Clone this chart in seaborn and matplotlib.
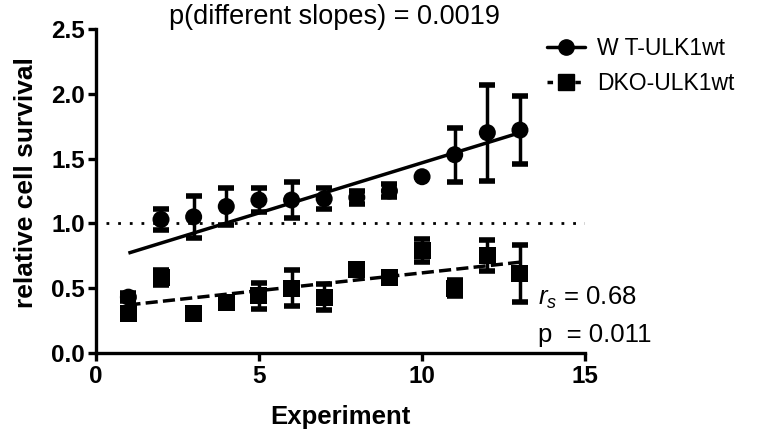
import numpy as np
import pandas as pd
import matplotlib
matplotlib.use("Agg")
import matplotlib.pyplot as plt
from matplotlib.lines import Line2D
import seaborn as sns

# ---- data ----
experiment = [1, 2, 3, 4, 5, 6, 7, 8, 9, 10, 11, 12, 13]
wt_mean = [0.43, 1.03, 1.05, 1.13, 1.18, 1.18, 1.19, 1.20, 1.25, 1.36, 1.53, 1.70, 1.72]
wt_err = [0.03, 0.08, 0.16, 0.14, 0.09, 0.14, 0.08, 0.05, 0.05, 0.0, 0.21, 0.37, 0.26]
dko_mean = [0.30, 0.58, 0.30, 0.39, 0.44, 0.50, 0.43, 0.64, 0.58, 0.79, 0.50, 0.75, 0.61]
dko_err = [0.04, 0.06, 0.0, 0.04, 0.10, 0.14, 0.10, 0.02, 0.04, 0.09, 0.06, 0.12, 0.22]
fit_x = [1, 13]
wt_fit = [0.77, 1.70]
dko_fit = [0.37, 0.70]
series_names = ["W T-ULK1wt", "DKO-ULK1wt"]
title_text = "p(different slopes) = 0.0019"
rs_text = "$r_s$ = 0.68"
p_text = "p  = 0.011"
xticks = [0, 5, 10, 15]
yticks = [0.0, 0.5, 1.0, 1.5, 2.0, 2.5]

df = pd.DataFrame({
    "Experiment": experiment * 2,
    "value": wt_mean + dko_mean,
    "err": wt_err + dko_err,
    "group": [series_names[0]] * len(experiment) + [series_names[1]] * len(experiment),
})
fit_df = pd.DataFrame({
    "Experiment": fit_x * 2,
    "value": wt_fit + dko_fit,
    "group": [series_names[0]] * 2 + [series_names[1]] * 2,
})

sns.set_style("ticks", rc={"text.color": "black", "axes.labelcolor": "black",
                           "xtick.color": "black", "ytick.color": "black",
                           "axes.edgecolor": "black"})
arial = ["Liberation Sans", "DejaVu Sans"]
plt.rcParams["font.family"] = arial
plt.rcParams["mathtext.fontset"] = "custom"
plt.rcParams["mathtext.it"] = "Liberation Sans:italic"
plt.rcParams["mathtext.rm"] = "Liberation Sans"

fig = plt.figure(figsize=(7.66, 4.34), dpi=100)
ax = fig.add_axes([0.125, 0.187, 0.639, 0.746])

lw = 2.5
# error bars
for name, grp in df.groupby("group", sort=False):
    ax.errorbar(grp["Experiment"], grp["value"], yerr=grp["err"], fmt="none",
                ecolor="black", elinewidth=lw, capsize=6, capthick=lw * 1.6, zorder=3)

# fit lines
sns.lineplot(data=fit_df, x="Experiment", y="value", hue="group", style="group",
             palette=["black", "black"], dashes=[(1, 0), (3.5, 1.5)],
             linewidth=lw, legend=False, ax=ax, zorder=2)

# markers
sns.scatterplot(data=df, x="Experiment", y="value", hue="group", style="group",
                markers=["o", "s"], palette=["black", "black"], s=150,
                edgecolor="black", linewidth=0, legend=False, ax=ax, zorder=4)

ax.axhline(1.0, xmin=0.02, color="black", linestyle=(0, (1, 3.2)), linewidth=2.0, zorder=1)

ax.set_xlim(0, 15)
ax.set_ylim(0, 2.5)
ax.set_xticks(xticks)
ax.set_yticks(yticks)
ax.set_xticklabels([str(t) for t in xticks])
ax.set_yticklabels([f"{t:.1f}" for t in yticks])
for sp in ["top", "right"]:
    ax.spines[sp].set_visible(False)
for sp in ["left", "bottom"]:
    ax.spines[sp].set_linewidth(2.4)
ax.tick_params(axis="both", direction="out", length=6, width=2.4, labelsize=17.5, pad=2)
ax.tick_params(axis="x", pad=3)
for lab in ax.get_xticklabels() + ax.get_yticklabels():
    lab.set_fontweight("bold")

ax.set_xlabel("Experiment", fontsize=18.5, fontweight="bold", labelpad=12)
ax.set_ylabel("relative cell survival", fontsize=19, fontweight="bold")
ax.yaxis.set_label_coords(-0.117, 0.525)

fig.text(0.437, 0.96, title_text, ha="center", va="center", fontsize=19.5)

handles = [
    Line2D([0], [0], color="black", lw=lw, marker="o", markersize=11),
    Line2D([0], [0], color="black", lw=lw, linestyle=(0, (1.6, 2.4)), marker="s", markersize=11),
]
leg = fig.legend(handles, series_names, loc="upper left", bbox_to_anchor=(0.687, 0.962),
                 frameon=False, handlelength=1.65, handletextpad=0.55,
                 labelspacing=0.5, prop={"family": arial, "size": 16.5})

fig.text(0.703, 0.313, rs_text, ha="left", va="center", fontsize=18.5)
fig.text(0.703, 0.228, p_text, ha="left", va="center", fontsize=18.5)

fig.savefig("out.png", dpi=100)
